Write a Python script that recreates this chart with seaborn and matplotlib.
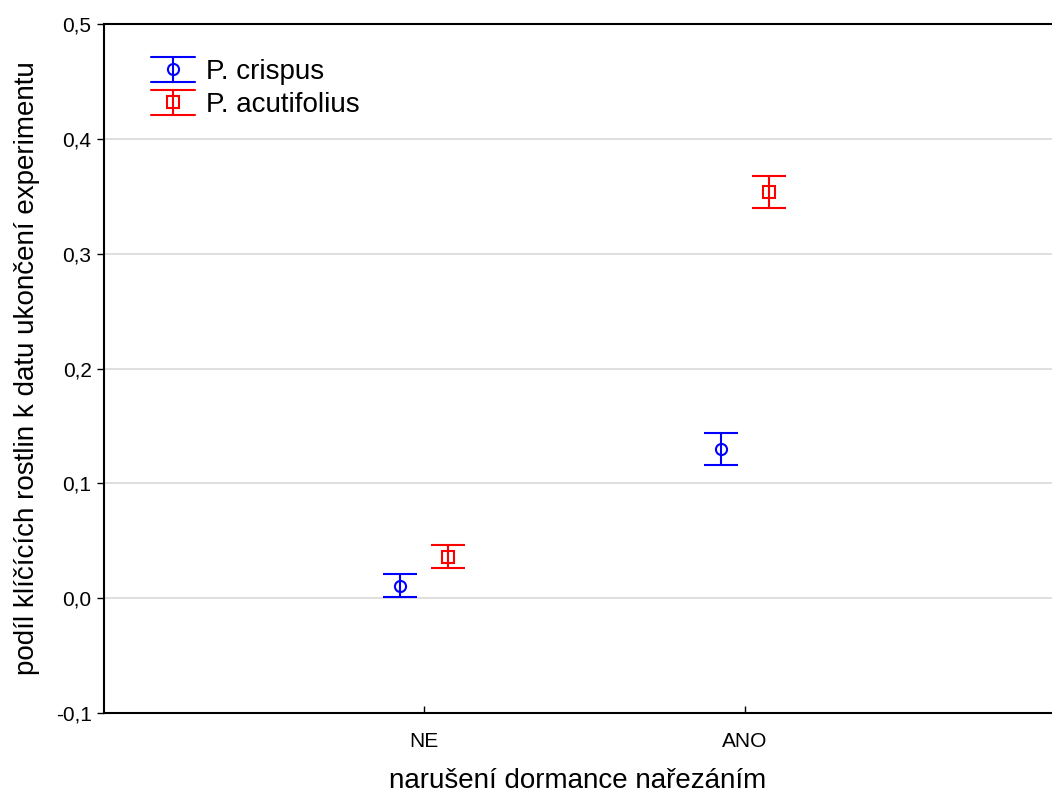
import matplotlib
matplotlib.use("Agg")
import matplotlib.pyplot as plt
import seaborn as sns
import numpy as np
from matplotlib.lines import Line2D
from matplotlib.legend_handler import HandlerBase
from matplotlib.ticker import FuncFormatter, MultipleLocator

# data
categories = ["NE", "ANO"]
species = ["P. crispus", "P. acutifolius"]
crispus_mean = [0.011, 0.130]
crispus_err = [0.010, 0.014]
acutifolius_mean = [0.036, 0.354]
acutifolius_err = [0.010, 0.014]

sns.set_theme(style="white")
plt.rcParams["font.family"] = ["Liberation Sans", "DejaVu Sans"]
plt.rcParams["text.color"] = "black"
plt.rcParams["axes.labelcolor"] = "black"
plt.rcParams["xtick.color"] = "black"
plt.rcParams["ytick.color"] = "black"

LW = 1.5


class ErrHandler(HandlerBase):
    # legend glyph: full-width caps, whisker and open marker
    def __init__(self, color, marker, **kw):
        super().__init__(**kw)
        self.color = color
        self.marker = marker

    def create_artists(self, legend, orig, xd, yd, w, h, fs, trans):
        top, bot, mid = yd + h * 1.15, yd - h * 0.15, yd + h / 2
        arts = [
            Line2D([xd, xd + w], [top, top], color=self.color, lw=LW),
            Line2D([xd, xd + w], [bot, bot], color=self.color, lw=LW),
            Line2D([xd + w / 2, xd + w / 2], [bot, top], color=self.color, lw=LW),
            Line2D([xd + w / 2], [mid], marker=self.marker, color=self.color,
                   mfc="none", ms=8, mew=LW, linestyle="none"),
        ]
        for a in arts:
            a.set_transform(trans)
        return arts


fig = plt.figure(figsize=(10.52, 7.96), dpi=100)
ax = fig.add_axes([0.0989, 0.1043, 0.9011, 0.8655])

pos = np.arange(len(categories))
series = [
    (crispus_mean, crispus_err, "#0000ff", "o", -0.075, species[0]),
    (acutifolius_mean, acutifolius_err, "#ff0000", "s", 0.075, species[1]),
]
handles = []
hmap = {}
for mean, err, col, mk, off, lab in series:
    c = ax.errorbar(pos + off, mean, yerr=err, fmt=mk, color=col, mfc="none",
                    mec=col, ms=8, mew=LW, elinewidth=LW,
                    capsize=12, capthick=LW, label=lab, linestyle="none")
    handles.append(c)
    hmap[c] = ErrHandler(col, mk)

ax.set_xlim(-1, 1.96)
ax.set_ylim(-0.1, 0.5)
ax.set_xticks(pos)
ax.set_xticklabels(categories)
ax.yaxis.set_major_locator(MultipleLocator(0.1))
ax.yaxis.set_major_formatter(FuncFormatter(lambda v, p: f"{v:.1f}".replace(".", ",")))

ax.grid(axis="y", color="#d9d9d9", linewidth=1.2)
ax.set_axisbelow(True)
for s in ["left", "bottom", "top"]:
    ax.spines[s].set_color("black")
    ax.spines[s].set_linewidth(1.5)
ax.spines["right"].set_visible(False)

ax.tick_params(axis="y", direction="out", length=5, width=1,
               labelsize=15, left=True, pad=4)
ax.tick_params(axis="x", direction="in", length=5, width=1,
               labelsize=15, bottom=True, pad=14)

ax.set_xlabel("narušení dormance nařezáním", fontsize=20, labelpad=12)
ax.set_ylabel("podíl klíčících rostlin k datu ukončení experimentu", fontsize=20, labelpad=11)

ax.legend(handles, species, handler_map=hmap, loc="upper left", frameon=False,
          fontsize=20, handlelength=1.6, handletextpad=0.4, borderaxespad=1.0,
          labelspacing=0.25, bbox_to_anchor=(8 / 948, 1 + 4 / 689))

fig.savefig("out.png", dpi=100)
